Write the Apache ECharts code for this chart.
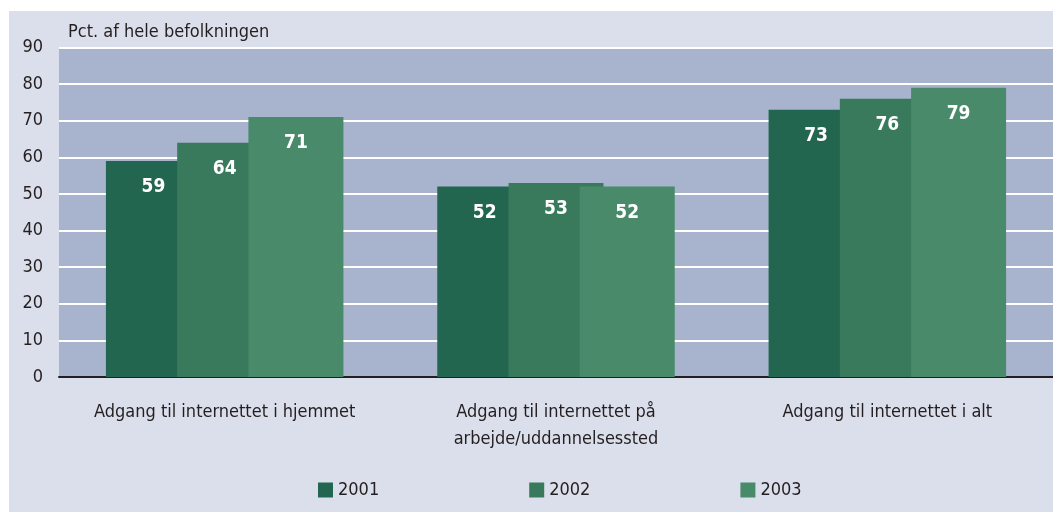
<!DOCTYPE html>
<html>
<head>
<meta charset="utf-8">
<script src="https://cdn.jsdelivr.net/npm/echarts@6/dist/echarts.min.js"></script>
<style>
html, body { margin: 0; padding: 0; background: #fff; }
#main { width: 1053px; height: 512px; }
</style>
</head>
<body>
<div id="main"></div>
<script>
var categories = ['Adgang til internettet i hjemmet', 'Adgang til internettet på\narbejde/uddannelsessted', 'Adgang til internettet i alt'];
var years = ['2001', '2002', '2003'];
var values2001 = [59, 52, 73];
var values2002 = [64, 53, 76];
var values2003 = [71, 52, 79];
var colors = ['#236650', '#3a7a5c', '#488a6a'];

var font = '"Liberation Sans Narrow", "DejaVu Sans Condensed", sans-serif';
var myChart = echarts.init(document.getElementById('main'));

function barSeries(name, data, color) {
    return {
        name: name,
        type: 'bar',
        data: data,
        barWidth: 95,
        barGap: '-25%',
        itemStyle: { color: color },
        label: {
            show: true,
            position: 'insideTop',
            distance: 17,
            color: '#fff',
            fontFamily: font,
            fontWeight: 'bold',
            fontSize: 19
        }
    };
}

var option = {
    animation: false,
    textStyle: { fontFamily: font },
    graphic: [{
        type: 'rect',
        z: -10,
        shape: { x: 9, y: 11, width: 1044, height: 501 },
        style: { fill: '#dbdfeb' }
    }],
    title: {
        text: 'Pct. af hele befolkningen',
        left: 63,
        top: 18,
        textStyle: { fontFamily: font, fontSize: 18, fontWeight: 'normal', color: '#231f20' }
    },
    grid: {
        left: 59,
        right: 0,
        top: 47.5,
        bottom: 135,
        show: true,
        backgroundColor: '#a8b3ce',
        borderWidth: 0
    },
    legend: {
        bottom: 8,
        left: 313,
        itemWidth: 15,
        itemHeight: 15,
        itemGap: 150,
        icon: 'rect',
        textStyle: { fontFamily: font, fontSize: 18, color: '#231f20' },
        data: years
    },
    xAxis: {
        type: 'category',
        data: categories,
        axisLine: { lineStyle: { color: '#231f20', width: 2 } },
        axisTick: { show: false },
        axisLabel: { interval: 0, hideOverlap: false, fontSize: 18, color: '#231f20', lineHeight: 27, margin: 22 }
    },
    yAxis: {
        type: 'value',
        min: 0,
        max: 90,
        interval: 10,
        axisLabel: { fontSize: 18, color: '#231f20', margin: 16 },
        splitLine: { lineStyle: { color: '#fff', width: 2 } }
    },
    series: [
        barSeries(years[0], values2001, colors[0]),
        barSeries(years[1], values2002, colors[1]),
        barSeries(years[2], values2003, colors[2])
    ]
};
myChart.setOption(option);
</script>
</body>
</html>
